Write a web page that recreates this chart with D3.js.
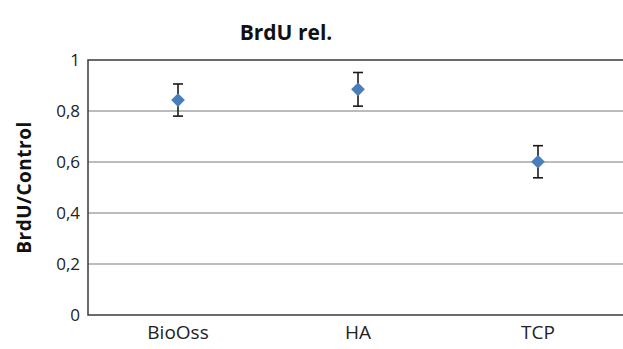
<!DOCTYPE html>
<html>
<head>
<meta charset="utf-8">
<script src="https://cdn.jsdelivr.net/npm/d3@7"></script>
<style>
  body { margin: 0; background: #fff; }
  svg { display: block; font-family: "Open Sans", sans-serif; }
</style>
</head>
<body>
<svg></svg>
<script>
// Data
var categories = ["BioOss", "HA", "TCP"];
var means = [0.843, 0.885, 0.601];
var errors = [0.063, 0.066, 0.063];
var yTicks = [0, 0.2, 0.4, 0.6, 0.8, 1];

var width = 623, height = 349;
var plotLeft = 88, plotRight = 628, plotTop = 60, plotBottom = 315;

var svg = d3.select("svg")
	.attr("width", width)
	.attr("height", height);

var x = d3.scaleBand()
	.domain(categories)
	.range([plotLeft, plotRight]);

var y = d3.scaleLinear()
	.domain([0, 1])
	.range([plotBottom, plotTop]);

var fmt = function(d) { return d3.format("")(d).replace(".", ","); };

// Gridlines
svg.append("g")
	.selectAll("line")
	.data(yTicks.filter(function(d) { return d > 0 && d < 1; }))
	.enter().append("line")
		.attr("x1", plotLeft)
		.attr("x2", plotRight)
		.attr("y1", function(d) { return y(d); })
		.attr("y2", function(d) { return y(d); })
		.attr("stroke", "#a6a6a6")
		.attr("stroke-width", 1.5);

// Frame
svg.append("rect")
	.attr("x", plotLeft)
	.attr("y", plotTop)
	.attr("width", plotRight - plotLeft)
	.attr("height", plotBottom - plotTop)
	.attr("fill", "none")
	.attr("stroke", "#3a3a3a")
	.attr("stroke-width", 1.5);

// Y axis labels
var yAxis = svg.append("g")
	.attr("transform", "translate(" + plotLeft + ",0)")
	.call(d3.axisLeft(y).tickValues(yTicks).tickFormat(fmt).tickSize(0).tickPadding(8));
yAxis.select(".domain").remove();
yAxis.selectAll("text")
	.attr("font-family", "Open Sans, sans-serif")
	.attr("font-size", "17px")
	.attr("fill", "#222");

// X axis labels
var xAxis = svg.append("g")
	.attr("transform", "translate(0," + plotBottom + ")")
	.call(d3.axisBottom(x).tickSize(0).tickPadding(11));
xAxis.select(".domain").remove();
xAxis.selectAll("text")
	.attr("font-family", "Open Sans, sans-serif")
	.attr("font-size", "19px")
	.attr("fill", "#222");

// Error bars
var eb = svg.append("g")
	.selectAll("g")
	.data(categories)
	.enter().append("g")
		.attr("stroke", "#1a1a1a")
		.attr("stroke-width", 1.6);

eb.append("line")
	.attr("x1", function(d) { return x(d) + x.bandwidth() / 2; })
	.attr("x2", function(d) { return x(d) + x.bandwidth() / 2; })
	.attr("y1", function(d, i) { return y(means[i] + errors[i]); })
	.attr("y2", function(d, i) { return y(means[i] - errors[i]); });

[1, -1].forEach(function(s) {
	eb.append("line")
		.attr("x1", function(d) { return x(d) + x.bandwidth() / 2 - 5; })
		.attr("x2", function(d) { return x(d) + x.bandwidth() / 2 + 5; })
		.attr("y1", function(d, i) { return y(means[i] + s * errors[i]); })
		.attr("y2", function(d, i) { return y(means[i] + s * errors[i]); });
});

// Diamonds
svg.append("g")
	.selectAll("path")
	.data(categories)
	.enter().append("path")
		.attr("d", d3.symbol().type(d3.symbolDiamond2).size(120))
		.attr("transform", function(d, i) {
			return "translate(" + (x(d) + x.bandwidth() / 2) + "," + y(means[i]) + ")";
		})
		.attr("fill", "#4a7ebb");

// Title
svg.append("text")
	.attr("x", 286)
	.attr("y", 40)
	.attr("text-anchor", "middle")
	.attr("font-size", "21px")
	.attr("font-weight", "bold")
	.attr("fill", "#111")
	.text("BrdU rel.");

// Y title
svg.append("text")
	.attr("transform", "translate(31," + ((plotTop + plotBottom) / 2) + ") rotate(-90)")
	.attr("text-anchor", "middle")
	.attr("font-size", "19px")
	.attr("font-weight", "bold")
	.attr("letter-spacing", "0.5px")
	.attr("fill", "#111")
	.text("BrdU/Control");
</script>
</body>
</html>
